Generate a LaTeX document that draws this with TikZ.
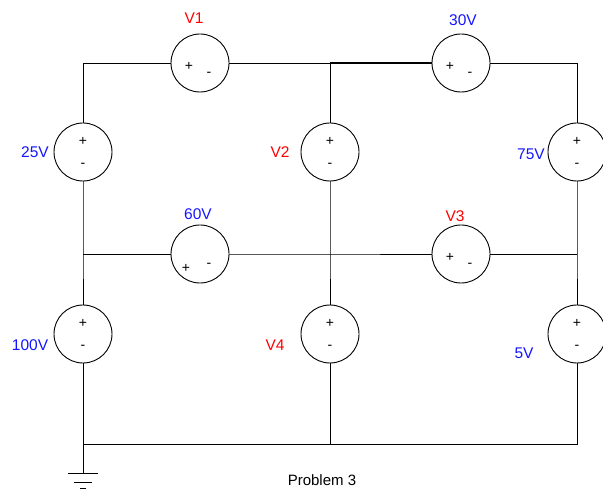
\documentclass[tikz,border=0pt]{standalone}
\usepackage{fontspec}
\setmainfont{Liberation Sans}
\usepackage{tikz}

\definecolor{valblue}{RGB}{20,20,255}
\definecolor{unkred}{RGB}{255,0,0}

\tikzset{
  src/.style={draw,circle,minimum size=58pt,inner sep=0pt},
  sgn/.style={font=\fontsize{14}{14}\selectfont,inner sep=0pt},
  val/.style={text=valblue,font=\fontsize{15.5}{16}\selectfont,inner sep=0pt},
  unk/.style={text=unkred,font=\fontsize{15.5}{16}\selectfont,inner sep=0pt}
}

\begin{document}
\begin{tikzpicture}[x=1pt,y=-1pt,line width=0.9pt]
    \useasboundingbox (0,0) rectangle (603,489);

    % Junctions of the wire grid
    \foreach \name/\x/\y in {tl/83/63,tm/330/63,tr/577/63,
                             ml/83/254,mm/330/254,mr/577/254,
                             bl/83/444,bm/330/444,br/577/444}
      \coordinate (\name) at (\x,\y);

    % Vertical sources
    \foreach \name/\x/\y in {s25/83/152,v2/330/152,s75/577/152,
                             s100/83/334,v4/330/334,s5/577/334}
    {
      \node [src] (\name) at (\x,\y) {};
      \node [sgn] at ([yshift=11pt]\name.center) {+};
      \node [sgn] at ([yshift=-13pt]\name.center) {-};
    }

    % Horizontal sources
    \foreach \name/\x/\y/\px/\py in {v1/200/63/-11/-3,s30/461/63/-11/-3,
                                     s60/200/254/-14/-14,v3/461/254/-11/-3}
    {
      \node [src] (\name) at (\x,\y) {};
      \node [sgn] at ([xshift=\px pt,yshift=\py pt]\name.center) {+};
      \node [sgn] at ([xshift=9pt,yshift=-11pt]\name.center) {-};
    }

    % Top loop
    \draw (s25.north) |- (v1.west);
    \draw (v1.east) -- (tm);
    \draw [line width=1.4pt] (tm) -- (s30.west);
    \draw (s30.east) -| (s75.north);
    \draw (tm) -- (v2.north);

    % Middle branch
    \draw (s25.south) -- (ml) -- (s100.north);
    \draw (ml) -- (s60.west);
    \draw (s60.east) -- (mm) -- (v3.west);
    \draw (v3.east) -- (mr);
    \draw (v2.south) -- (mm) -- (v4.north);
    \draw (s75.south) -- (mr) -- (s5.north);

    % Bottom rail
    \draw (s100.south) -- (bl) -- (br) -- (s5.south);
    \draw (v4.south) -- (bm);

    % Ground
    \coordinate (gnd) at (83,473);
    \draw (bl) -- (gnd);
    \draw ([xshift=-15pt]gnd) -- ([xshift=15pt]gnd);
    \draw ([xshift=-9pt,yshift=-9pt]gnd) -- ([xshift=9pt,yshift=-9pt]gnd);
    \draw ([xshift=-3pt,yshift=-15pt]gnd) -- ([xshift=3pt,yshift=-15pt]gnd);

    % Labels
    \node [unk] (l1) at (194,18) {V1};
    \node [val] (l30) at (463,20) {30V};
    \node [val] (l25) at (35,152) {25V};
    \node [unk] (l2) at (280,152) {V2};
    \node [val] (l75) at (531,154) {75V};
    \node [val] (l60) at (198,214) {60V};
    \node [unk] (l3) at (455,216) {V3};
    \node [val] (l100) at (30,345) {100V};
    \node [unk] (l4) at (275,345) {V4};
    \node [val] (l5) at (524,353) {5V};
    \node [font=\fontsize{15}{16}\selectfont,inner sep=0pt] (title) at (322,480) {Problem 3};
\end{tikzpicture}
\end{document}
